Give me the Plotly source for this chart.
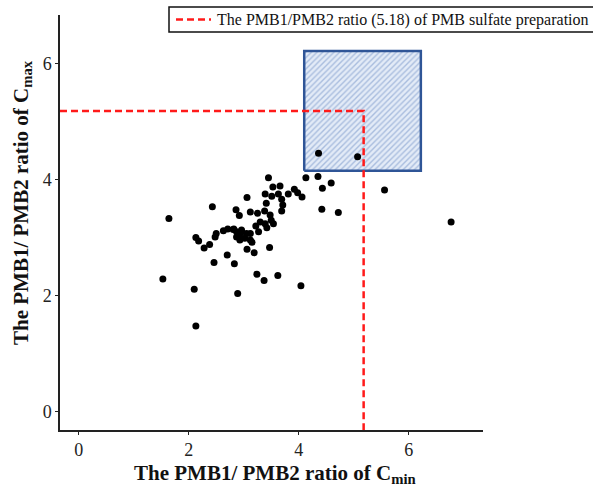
import plotly.graph_objects as go

# ---- data ----
cmin_ratio = [3.45, 4.13, 4.35, 3.53, 3.66, 4.43, 4.59, 3.92, 3.39, 3.51,
              3.63, 3.81, 3.98, 4.06, 3.06, 3.69, 3.41, 3.71, 2.43, 2.86,
              3.69, 4.42, 4.72, 3.12, 3.25, 3.38, 2.92, 3.48, 1.64, 3.50,
              3.30, 3.39, 3.54, 3.22, 3.42, 2.71, 2.63, 2.81, 2.87, 2.96,
              3.05, 3.12, 3.27, 2.50, 2.48, 2.87, 2.93, 3.02, 3.12, 2.13,
              2.18, 2.93, 3.15, 2.38, 2.28, 3.06, 3.19, 3.47, 2.70, 2.46,
              2.83, 1.53, 3.24, 3.37, 3.62, 4.04, 2.10, 2.89, 2.13, 4.36,
              5.07, 5.56, 6.77, 2.82, 2.96]
cmax_ratio = [4.03, 4.03, 4.05, 3.87, 3.89, 3.85, 3.94, 3.83, 3.75, 3.71,
              3.75, 3.75, 3.77, 3.70, 3.69, 3.66, 3.59, 3.56, 3.53, 3.48,
              3.46, 3.49, 3.43, 3.44, 3.42, 3.46, 3.38, 3.39, 3.33, 3.30,
              3.27, 3.24, 3.24, 3.20, 3.17, 3.15, 3.12, 3.14, 3.10, 3.10,
              3.07, 3.07, 3.10, 3.07, 3.01, 3.01, 3.01, 2.99, 2.96, 3.00,
              2.94, 2.96, 2.92, 2.88, 2.82, 2.80, 2.74, 2.83, 2.70, 2.57,
              2.55, 2.29, 2.37, 2.26, 2.35, 2.17, 2.11, 2.04, 1.48, 4.45,
              4.39, 3.82, 3.27, 3.15, 3.13]

prep_ratio = 5.18                      # PMB1/PMB2 ratio of the sulfate preparation
target_x = [4.10, 6.22]                # highlighted region (Cmin ratio)
target_y = [4.15, 6.21]                # highlighted region (Cmax ratio)

x_range = [-0.34, 7.35]
y_range = [-0.31, 6.83]
tick_vals = [0, 2, 4, 6]

legend_label = "The PMB1/PMB2 ratio (5.18) of PMB sulfate preparation"
x_title = "<b>The PMB1/ PMB2 ratio of C<sub>min</sub></b>"
y_title = "<b>The PMB1/ PMB2 ratio of C<sub>max</sub></b>"

SERIF = "Liberation Serif, Times New Roman, serif"
RED = "#FF1A1A"
DASH = "7px,4px"

# plot area in pixels (used only to place the legend box)
W, H = 593, 487
ML, MR, MT, MB = 60, 110, 15, 57
PW, PH = W - ML - MR, H - MT - MB


def px(xp):
    return (xp - ML) / PW


def py(yp):
    return (H - MB - yp) / PH


fig = go.Figure()

# hatched target box
fig.add_trace(go.Scatter(
    x=[target_x[0], target_x[1], target_x[1], target_x[0], target_x[0]],
    y=[target_y[0], target_y[0], target_y[1], target_y[1], target_y[0]],
    mode="lines", fill="toself",
    line=dict(color="#2F5597", width=2.5),
    fillcolor="#DCE6F4",
    fillpattern=dict(shape="/", fgcolor="#7090C6", bgcolor="#E3EBF7",
                     size=4, solidity=0.35),
    showlegend=False, hoverinfo="skip"))

# red dashed reference lines
fig.add_trace(go.Scatter(
    x=[x_range[0], prep_ratio, prep_ratio],
    y=[prep_ratio, prep_ratio, y_range[0]],
    mode="lines", name=legend_label, showlegend=False,
    line=dict(color=RED, width=2.5, dash=DASH)))

# observations
fig.add_trace(go.Scatter(
    x=cmin_ratio, y=cmax_ratio, mode="markers",
    marker=dict(color="black", size=7),
    showlegend=False))

axis_common = dict(
    showgrid=False, zeroline=False, showline=True,
    linecolor="#222222", linewidth=1.5,
    ticks="outside", ticklen=3, tickcolor="#222222", tickwidth=1.2,
    tickvals=tick_vals,
    tickfont=dict(family=SERIF, size=18, color="#222222"),
)

fig.update_xaxes(range=x_range, **axis_common)
fig.update_yaxes(range=y_range, **axis_common)

fig.add_annotation(text=x_title, xref="paper", yref="paper",
                   x=px(275), y=py(474), xanchor="center", yanchor="middle",
                   showarrow=False,
                   font=dict(family=SERIF, size=21, color="#111111"))
fig.add_annotation(text=y_title, xref="paper", yref="paper",
                   x=px(22), y=py(203), xanchor="center", yanchor="middle",
                   textangle=-90, showarrow=False,
                   font=dict(family=SERIF, size=21, color="#111111"))

# legend box (drawn as in the reference: runs off the right edge)
fig.add_shape(type="rect", xref="paper", yref="paper",
              x0=px(169), x1=px(610), y0=py(32), y1=py(7),
              line=dict(color="#111111", width=1.5), fillcolor="white",
              layer="above")
fig.add_shape(type="line", xref="paper", yref="paper",
              x0=px(176), x1=px(211), y0=py(19.5), y1=py(19.5),
              line=dict(color=RED, width=2.5, dash=DASH), layer="above")
fig.add_annotation(text=legend_label, xref="paper", yref="paper",
                   x=px(215), y=py(19.5), xanchor="left", yanchor="middle",
                   showarrow=False,
                   font=dict(family=SERIF, size=16, color="#111111"))

fig.update_layout(
    width=W, height=H,
    margin=dict(l=ML, r=MR, t=MT, b=MB, autoexpand=False),
    plot_bgcolor="white", paper_bgcolor="white",
    showlegend=False,
)

fig.write_html("out.html")
